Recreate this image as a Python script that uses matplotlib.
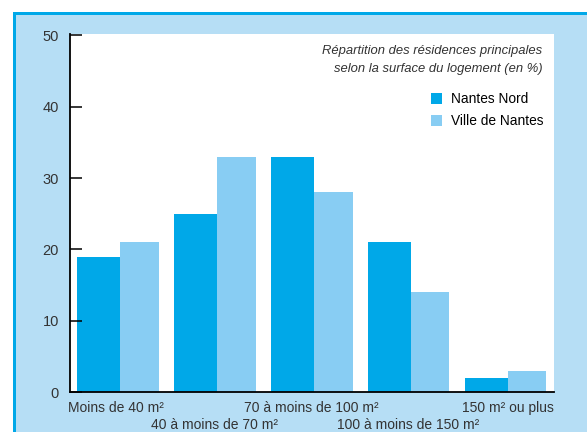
import matplotlib.pyplot as plt
from matplotlib.patches import Rectangle
import numpy as np

plt.rcParams['font.family'] = ['Liberation Sans', 'DejaVu Sans']

categories = ["Moins de 40 m²", "40 à moins de 70 m²", "70 à moins de 100 m²",
              "100 à moins de 150 m²", "150 m² ou plus"]
nantes_nord = [19, 25, 33, 21, 2]
ville_nantes = [21, 33, 28, 14, 3]

dark_blue = '#00a8e8'
light_blue = '#88cdf3'
frame_blue = '#b6def5'
text_col = '#333333'

W, H = 587, 432
fig = plt.figure(figsize=(W / 100, H / 100), dpi=100)

# outer frame (only top and left edges visible)
fig.patches.append(Rectangle((13 / W, 0), 1, 1 - 12 / H, transform=fig.transFigure,
                             facecolor=dark_blue, edgecolor='none', zorder=-2))
fig.patches.append(Rectangle((16 / W, 0), 1, 1 - 15 / H, transform=fig.transFigure,
                             facecolor=frame_blue, edgecolor='none', zorder=-1))

ax = fig.add_axes([70 / W, (H - 392) / H, 484 / W, 358 / H])
ax.set_zorder(2)
ax.set_facecolor('white')

x = np.arange(len(categories))
w1 = 0.444
w2 = 0.40
ax.bar(x, nantes_nord, width=w1, align='edge', color=dark_blue, label='Nantes Nord')
ax.bar(x + w1, ville_nantes, width=w2, align='edge', color=light_blue, label='Ville de Nantes')

ax.set_xlim(-0.072, 4.923)
ax.set_ylim(0, 50.2)

for s in ['top', 'right']:
    ax.spines[s].set_visible(False)
for s in ['left', 'bottom']:
    ax.spines[s].set_linewidth(1.3)
    ax.spines[s].set_color('black')

ax.set_yticks([0, 10, 20, 30, 40, 50])
ax.tick_params(axis='y', direction='in', length=8.5, width=1.1, pad=8,
               labelsize=10.5, labelcolor=text_col)
ax.set_xticks([])

# staggered category labels
trans = ax.get_xaxis_transform()
centers = x + (w1 + w2) / 2
ax.text(-0.09, -0.045, categories[0], transform=trans, ha='left', va='center',
        fontsize=10, color=text_col, clip_on=False)
ax.text(centers[1], -0.093, categories[1], transform=trans, ha='center', va='center',
        fontsize=10, color=text_col, clip_on=False)
ax.text(centers[2], -0.045, categories[2], transform=trans, ha='center', va='center',
        fontsize=10, color=text_col, clip_on=False)
ax.text(centers[3], -0.093, categories[3], transform=trans, ha='center', va='center',
        fontsize=10, color=text_col, clip_on=False)
ax.text(4.923, -0.045, categories[4], transform=trans, ha='right', va='center',
        fontsize=10, color=text_col, clip_on=False)

# title in the plot
ax.text(0.976, 0.968, "Répartition des résidences principales\nselon la surface du logement (en %)",
        transform=ax.transAxes, ha='right', va='top', fontsize=9.4, style='italic',
        color=text_col, linespacing=1.6)

ax.legend(loc='upper right', bbox_to_anchor=(0.99, 0.853), frameon=False,
          fontsize=9.9, handlelength=0.85, handleheight=0.85, handletextpad=0.65,
          labelspacing=0.6, borderaxespad=0)

fig.savefig('out.png', dpi=100)
